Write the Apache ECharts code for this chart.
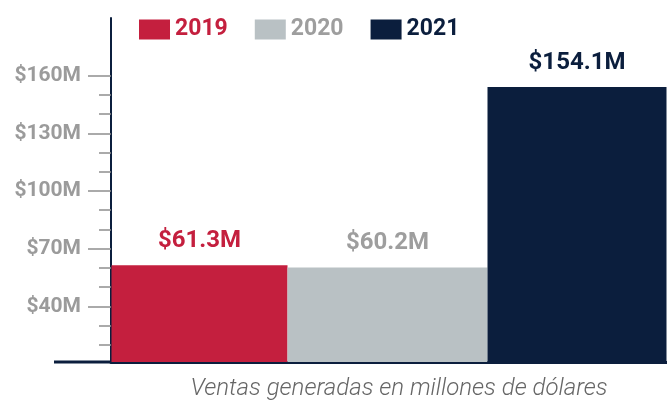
<!DOCTYPE html>
<html>
<head>
<meta charset="utf-8">
<script src="https://cdn.jsdelivr.net/npm/echarts@6/dist/echarts.min.js"></script>
<style>
  html, body { margin: 0; padding: 0; background: #fff; }
  #chart { width: 667px; height: 400px; }
</style>
</head>
<body>
<div id="chart"></div>
<script>
// datos
var years = ['2019', '2020', '2021'];
var ventas = [61.3, 60.2, 154.1];
var yearColors = ['#c41f3e', '#b9c1c4', '#0b1e3d'];
var labelColors = ['#c41f3e', '#9e9e9e', '#0b1e3d'];
var tickValues = [40, 70, 100, 130, 160];
var minorValues = [20, 30, 50, 60, 80, 90, 110, 120, 140, 150];
var barWidths = [176, 200, 179];

var myChart = echarts.init(document.getElementById('chart'));

var series = years.map(function (y, i) {
    return {
        name: y,
        type: 'bar',
        barWidth: barWidths[i],
        barGap: '0%',
        itemStyle: { color: yearColors[i] },
        label: {
            show: true,
            position: 'top',
            distance: 12,
            color: labelColors[i],
            fontFamily: 'Roboto',
            fontWeight: 'bold',
            fontSize: 24,
            formatter: function (p) { return '$' + p.value + 'M'; }
        },
        data: [ventas[i]]
    };
});

var option = {
    animation: false,
    legend: {
        left: 139,
        top: 18,
        padding: 0,
        itemWidth: 31,
        itemHeight: 20,
        itemGap: 27,
        icon: 'rect',
        textStyle: { fontFamily: 'Roboto', fontWeight: 'bold', fontSize: 23 },
        data: years.map(function (y, i) {
            return { name: y, textStyle: { color: labelColors[i] } };
        })
    },
    grid: { left: 111, right: 0, top: 18, bottom: 38, outerBoundsMode: 'none' },
    xAxis: {
        type: 'category',
        data: [''],
        axisLine: { lineStyle: { color: '#0b1e3d', width: 3 } },
        axisTick: { show: false },
        axisLabel: { show: false },
        name: 'Ventas generadas en millones de dólares',
        nameLocation: 'middle',
        nameGap: 15,
        nameTextStyle: {
            fontFamily: 'Roboto', fontStyle: 'italic', fontWeight: 300,
            fontSize: 24, color: '#666666', padding: [0, 0, 0, 20]
        }
    },
    yAxis: [
        {
            type: 'value',
            min: 11,
            max: 190,
            splitLine: { show: false },
            axisLine: { show: true, lineStyle: { color: '#0b1e3d', width: 2 } },
            axisTick: { show: true, length: 23, customValues: tickValues, lineStyle: { color: '#8f8f8f', width: 1.5 } },
            axisLabel: {
                customValues: tickValues,
                margin: 30,
                color: '#9b9b9b',
                fontFamily: 'Roboto',
                fontWeight: 'bold',
                fontSize: 21,
                formatter: function (v) { return '$' + v + 'M'; }
            }
        },
        {
            type: 'value',
            position: 'left',
            min: 11,
            max: 190,
            splitLine: { show: false },
            axisLine: { show: false },
            axisTick: { show: true, length: 12, customValues: minorValues, lineStyle: { color: '#8f8f8f', width: 1.5 } },
            axisLabel: { show: false }
        }
    ],
    graphic: [{
        type: 'line',
        shape: { x1: 54, y1: 362, x2: 112, y2: 362 },
        style: { stroke: '#0b1e3d', lineWidth: 3 }
    }],
    series: series
};

myChart.setOption(option);
</script>
</body>
</html>
